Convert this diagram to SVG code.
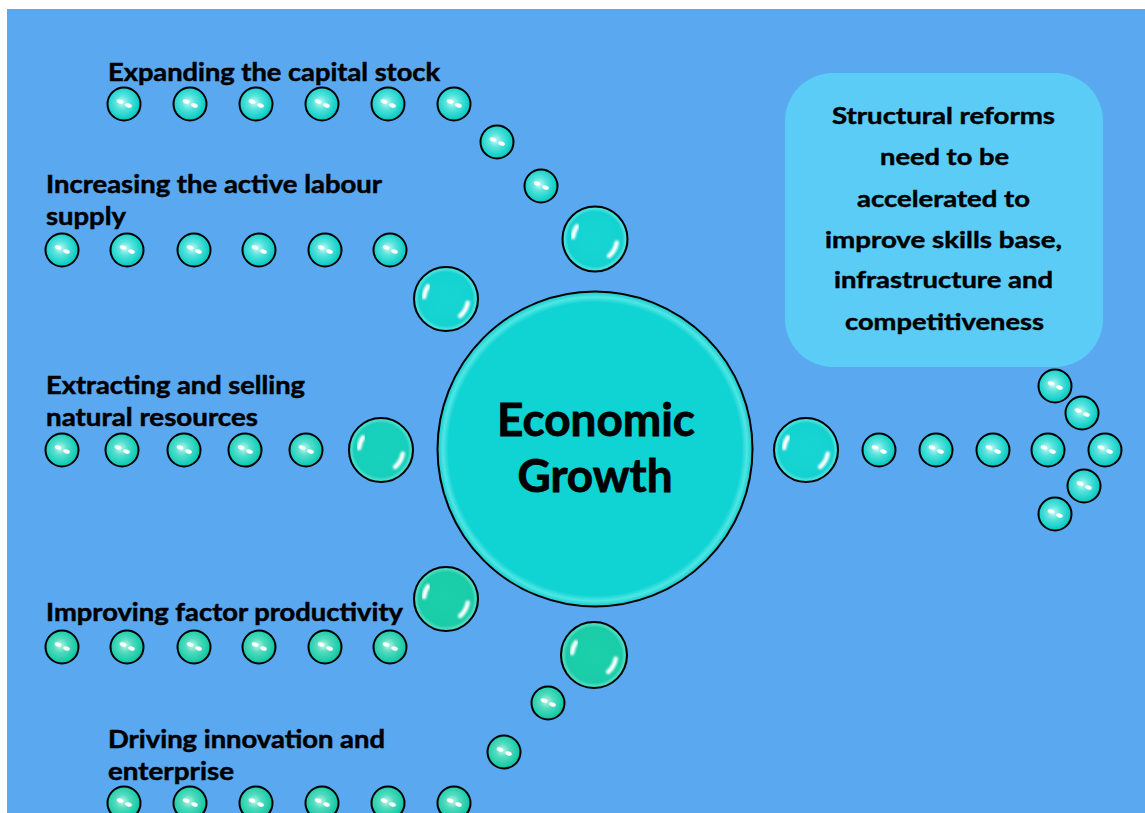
<svg xmlns="http://www.w3.org/2000/svg" width="1145" height="813" viewBox="0 0 1145 813">
<style>
.lbl{font-family:Lato,"Liberation Sans",sans-serif;font-weight:700;font-size:25px;fill:#000;stroke:#000;stroke-width:0.5}
.box{font-family:Lato,"Liberation Sans",sans-serif;font-weight:700;font-size:23px;fill:#000;stroke:#000;stroke-width:0.45}
.ctr{font-family:Lato,"Liberation Sans",sans-serif;font-weight:700;font-size:45px;fill:#000;stroke:#000;stroke-width:0.8}
.big{stroke:#000;stroke-width:2}
.hl{fill:none;stroke:#fff;stroke-width:4.5;stroke-linecap:round;filter:url(#soft2)}
</style>
<defs>
<filter id="soft" x="-50%" y="-50%" width="200%" height="200%"><feGaussianBlur stdDeviation="0.7"/></filter>
<filter id="soft2" x="-50%" y="-50%" width="200%" height="200%"><feGaussianBlur stdDeviation="1.2"/></filter>
<radialGradient id="sC" cx="0.45" cy="0.45" r="0.6"><stop offset="0" stop-color="#c4faf6"/><stop offset="0.35" stop-color="#58e3dd"/><stop offset="0.8" stop-color="#12cfc8"/><stop offset="1" stop-color="#0cb8b2"/></radialGradient>
<radialGradient id="sM" cx="0.45" cy="0.45" r="0.6"><stop offset="0" stop-color="#c0f8ee"/><stop offset="0.35" stop-color="#54dece"/><stop offset="0.8" stop-color="#15cdb8"/><stop offset="1" stop-color="#0fb6a2"/></radialGradient>
<radialGradient id="sG" cx="0.45" cy="0.45" r="0.6"><stop offset="0" stop-color="#bef6e6"/><stop offset="0.35" stop-color="#52dbbe"/><stop offset="0.8" stop-color="#19cba8"/><stop offset="1" stop-color="#11b393"/></radialGradient>
<radialGradient id="bC" cx="0.5" cy="0.5" r="0.5"><stop offset="0" stop-color="#16d6d4"/><stop offset="0.84" stop-color="#14d2d0"/><stop offset="0.94" stop-color="#4ee2de"/><stop offset="1" stop-color="#10c2c0"/></radialGradient>
<radialGradient id="bM" cx="0.5" cy="0.5" r="0.5"><stop offset="0" stop-color="#18d2be"/><stop offset="0.84" stop-color="#17cfba"/><stop offset="0.94" stop-color="#50dfcf"/><stop offset="1" stop-color="#12bfaa"/></radialGradient>
<radialGradient id="bG" cx="0.5" cy="0.5" r="0.5"><stop offset="0" stop-color="#1cd0ac"/><stop offset="0.84" stop-color="#1acda8"/><stop offset="0.94" stop-color="#52ddc4"/><stop offset="1" stop-color="#14bb98"/></radialGradient>
<radialGradient id="cG" cx="0.5" cy="0.5" r="0.5"><stop offset="0" stop-color="#10d4d4"/><stop offset="0.93" stop-color="#10d3d3"/><stop offset="0.965" stop-color="#4fe6e4"/><stop offset="1" stop-color="#0fcaca"/></radialGradient>
<g id="hl"><path class="hl" d="M-18,-12.6 A22,22 0 0 0 -21.9,-1.9"/><path class="hl" d="M21.7,3.8 A22,22 0 0 1 14.1,16.9"/></g>
<g id="dots"><ellipse cx="-4" cy="-2.5" rx="3.4" ry="2" transform="rotate(20 -4 -2.5)" fill="#fff"/><ellipse cx="4.5" cy="1.5" rx="3.4" ry="2" transform="rotate(20 4.5 1.5)" fill="#fff"/></g>
<g id="sbC"><circle r="16.5" fill="url(#sC)" stroke="#000" stroke-width="2"/><use href="#dots" filter="url(#soft)"/></g>
<g id="sbM"><circle r="16.5" fill="url(#sM)" stroke="#000" stroke-width="2"/><use href="#dots" filter="url(#soft)"/></g>
<g id="sbG"><circle r="16.5" fill="url(#sG)" stroke="#000" stroke-width="2"/><use href="#dots" filter="url(#soft)"/></g>
</defs>

<rect width="1145" height="813" fill="#fff"/>
<rect x="7" y="9" width="1138" height="804" fill="#5AA8F0"/>

<g id="connectors">
  <g id="conn-capital">
    <use href="#sbC" x="124" y="104"/><use href="#sbC" x="190" y="104"/><use href="#sbC" x="256" y="104"/><use href="#sbC" x="322" y="104"/><use href="#sbC" x="388" y="104"/><use href="#sbC" x="454" y="104"/>
    <use href="#sbC" x="497" y="142"/><use href="#sbC" x="541" y="186"/>
    <circle class="big" cx="595" cy="239" r="32.5" fill="url(#bC)"/><use href="#hl" x="595" y="239"/>
  </g>
  <g id="conn-labour">
    <use href="#sbC" x="62" y="250"/><use href="#sbC" x="127" y="250"/><use href="#sbC" x="194" y="250"/><use href="#sbC" x="259" y="250"/><use href="#sbC" x="325" y="250"/><use href="#sbC" x="390" y="250"/>
    <circle class="big" cx="446" cy="299" r="32" fill="url(#bC)"/><use href="#hl" x="446" y="299"/>
  </g>
  <g id="conn-resources">
    <use href="#sbM" x="62" y="450"/><use href="#sbM" x="122" y="450"/><use href="#sbM" x="184" y="450"/><use href="#sbM" x="245" y="450"/><use href="#sbM" x="306" y="450"/>
    <circle class="big" cx="381" cy="450" r="32" fill="url(#bM)"/><use href="#hl" x="381" y="450"/>
  </g>
  <g id="conn-productivity">
    <use href="#sbG" x="62" y="647"/><use href="#sbG" x="127" y="647"/><use href="#sbG" x="194" y="647"/><use href="#sbG" x="259" y="647"/><use href="#sbG" x="325" y="647"/><use href="#sbG" x="390" y="647"/>
    <circle class="big" cx="446" cy="599" r="32" fill="url(#bG)"/><use href="#hl" x="446" y="599"/>
  </g>
  <g id="conn-innovation">
    <use href="#sbG" x="124" y="803"/><use href="#sbG" x="190" y="803"/><use href="#sbG" x="256" y="803"/><use href="#sbG" x="322" y="803"/><use href="#sbG" x="388" y="803"/><use href="#sbG" x="454" y="803"/>
    <use href="#sbG" x="504" y="752"/><use href="#sbG" x="548" y="703"/>
    <circle class="big" cx="594" cy="655" r="33" fill="url(#bG)"/><use href="#hl" x="594" y="655"/>
  </g>
  <g id="conn-reforms">
    <circle class="big" cx="806" cy="450" r="32" fill="url(#bC)"/><use href="#hl" x="806" y="450"/>
    <use href="#sbC" x="879" y="450"/><use href="#sbC" x="936" y="450"/><use href="#sbC" x="993" y="450"/><use href="#sbC" x="1048" y="450"/>
    <use href="#sbC" x="1055" y="386"/><use href="#sbC" x="1082" y="413"/><use href="#sbC" x="1105" y="450"/><use href="#sbC" x="1084" y="486"/><use href="#sbC" x="1055" y="514"/>
  </g>
</g>

<g id="node-center">
  <circle cx="595" cy="449" r="157.5" fill="url(#cG)" stroke="#000" stroke-width="2"/>
  <text class="ctr" x="596" y="436" text-anchor="middle" textLength="198" lengthAdjust="spacingAndGlyphs">Economic</text>
  <text class="ctr" x="595" y="492" text-anchor="middle" textLength="155" lengthAdjust="spacingAndGlyphs">Growth</text>
</g>

<g id="node-capital"><text class="lbl" x="108" y="81" textLength="332" lengthAdjust="spacingAndGlyphs">Expanding the capital stock</text></g>
<g id="node-labour">
  <text class="lbl" x="46" y="193" textLength="336" lengthAdjust="spacingAndGlyphs">Increasing the active labour</text>
  <text class="lbl" x="46" y="225" textLength="80" lengthAdjust="spacingAndGlyphs">supply</text>
</g>
<g id="node-resources">
  <text class="lbl" x="46" y="394" textLength="259" lengthAdjust="spacingAndGlyphs">Extracting and selling</text>
  <text class="lbl" x="46" y="426" textLength="212" lengthAdjust="spacingAndGlyphs">natural resources</text>
</g>
<g id="node-productivity"><text class="lbl" x="46" y="621" textLength="357" lengthAdjust="spacingAndGlyphs">Improving factor productivity</text></g>
<g id="node-innovation">
  <text class="lbl" x="108" y="748" textLength="277" lengthAdjust="spacingAndGlyphs">Driving innovation and</text>
  <text class="lbl" x="108" y="780" textLength="126" lengthAdjust="spacingAndGlyphs">enterprise</text>
</g>

<g id="node-reforms">
  <rect x="785" y="73" width="318" height="294" rx="48" ry="48" fill="#5ACCF5"/>
  <text class="box" x="943.5" y="124" text-anchor="middle" textLength="223" lengthAdjust="spacingAndGlyphs">Structural reforms</text>
  <text class="box" x="944.5" y="165" text-anchor="middle" textLength="129" lengthAdjust="spacingAndGlyphs">need to be</text>
  <text class="box" x="943.5" y="207" text-anchor="middle" textLength="173" lengthAdjust="spacingAndGlyphs">accelerated to</text>
  <text class="box" x="943.5" y="248" text-anchor="middle" textLength="237" lengthAdjust="spacingAndGlyphs">improve skills base,</text>
  <text class="box" x="943.5" y="288" text-anchor="middle" textLength="219" lengthAdjust="spacingAndGlyphs">infrastructure and</text>
  <text class="box" x="944.5" y="330" text-anchor="middle" textLength="199" lengthAdjust="spacingAndGlyphs">competitiveness</text>
</g>
</svg>
